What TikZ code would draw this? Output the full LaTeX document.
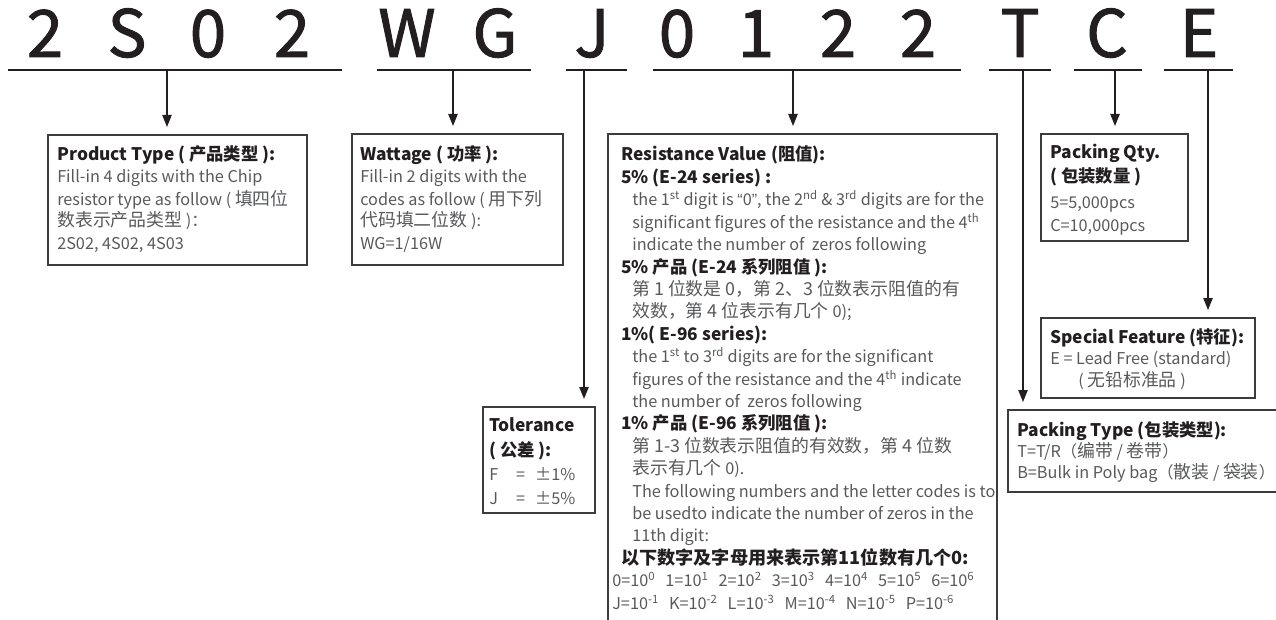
\documentclass[tikz,border=0pt]{standalone}
\usepackage{fontspec}
\setmainfont{Noto Sans CJK SC}
\newfontfamily\hdrfont{Noto Sans CJK SC}[FakeBold=1.4]
\newfontfamily\latq{Liberation Sans}
\usetikzlibrary{arrows.meta,fit}
\definecolor{ink}{HTML}{231F20}
\definecolor{bodytx}{HTML}{58595B}
\definecolor{frame}{HTML}{3C3C3C}
\newcommand\txline[5]{\node[#1,anchor=base west] (#2) at (#3,#4) {#5};}
\newcommand\sps[1]{\textsuperscript{#1}}
\newcommand\zh[1]{{\fontsize{13.4}{13.4}\selectfont #1}}
\newcommand\gap{\hspace{0.62em}}
\begin{document}
\begin{tikzpicture}[x=0.75pt,y=-0.75pt,
  big/.style={font=\hdrfont\fontsize{49}{49}\selectfont, text=ink, anchor=base, inner sep=0, text height=34pt, text depth=0pt},
  uline/.style={draw=ink, line width=0.9pt},
  arr/.style={draw=ink, line width=0.95pt, -{Triangle[length=9pt,width=7pt]}, shorten >=6pt},
  box/.style={draw=frame, line width=0.8pt, inner sep=0, outer sep=0},
  hd/.style={font=\fontsize{13}{13}\bfseries, text=ink, inner sep=0},
  tx/.style={font=\fontsize{12.2}{12.2}\selectfont, text=bodytx, inner sep=0},
  sm/.style={font=\fontsize{12.2}{12.2}\selectfont, text=bodytx, inner sep=0},
]
\useasboundingbox (0,0) rectangle (1276,620);
\clip (0,0) rectangle (1276,620);

% header code letters
\node[big] (c1) at (45,57) {2};
\node[big] (c2) at (127,57) {S};
\node[big] (c3) at (208,57) {0};
\node[big] (c4) at (292,57) {2};
\node[big] (c5) at (407,57) {W};
\node[big] (c6) at (495,57) {G};
\node[big] (c7) at (592,57) {J};
\node[big] (c8) at (677,57) {0};
\node[big] (c9) at (756,57) {1};
\node[big] (c10) at (838,57) {2};
\node[big] (c11) at (918,57) {2};
\node[big] (c12) at (1020,57) {T};
\node[big] (c13) at (1107,57) {C};
\node[big] (c14) at (1199,57) {E};

% underlines
\coordinate (a1) at (8,70);    \coordinate (b1) at (342,70);
\coordinate (a2) at (377,70);  \coordinate (b2) at (531,70);
\coordinate (a3) at (566,70);  \coordinate (b3) at (627,70);
\coordinate (a4) at (653,70);  \coordinate (b4) at (961,70);
\coordinate (a5) at (989,70);  \coordinate (b5) at (1051,70);
\coordinate (a6) at (1074,70); \coordinate (b6) at (1142,70);
\coordinate (a7) at (1164,70); \coordinate (b7) at (1233,70);
\foreach \i in {1,...,7} \draw[uline] (a\i) -- (b\i);

% arrow roots
\coordinate (d1) at (167,70);
\coordinate (d2) at (453,70);
\coordinate (d3) at (584,70);
\coordinate (d4) at (793,70);
\coordinate (d5) at (1023,70);
\coordinate (d6) at (1115,70);
\coordinate (d7) at (1208,70);

% boxes
\node[box, fit={(48,135) (307,265)}] (pt) {};
\node[box, fit={(352,134) (563,265)}] (wt) {};
\node[box, fit={(483,407) (595,513)}] (tol) {};
\node[box, fit={(608,134) (997,660)}] (res) {};
\node[box, fit={(1041,134) (1188,241)}] (pq) {};
\node[box, fit={(1041,318) (1255,398)}] (sf) {};
\node[box, fit={(1008,410) (1300,492)}] (ptype) {};

% connectors
\draw[arr] (d1) -- (d1 |- pt.north);
\draw[arr] (d2) -- (d2 |- wt.north);
\draw[arr] (d3) -- (d3 |- tol.north);
\draw[arr] (d4) -- (d4 |- res.north);
\draw[arr] (d5) -- (d5 |- ptype.north);
\draw[arr] (d6) -- (d6 |- pq.north);
\draw[arr] (d7) -- (d7 |- sf.north);

% Product type
\txline{hd}{p1}{57}{161}{Product Type ( 产品类型 ):}
\txline{tx}{p2}{57}{183}{Fill-in 4 digits with the Chip}
\txline{tx}{p3}{57}{205}{resistor type as follow ( \zh{填四位}}
\txline{tx}{p4}{57}{227}{\zh{数表示产品类型} )：}
\txline{tx}{p5}{57}{249}{2S02, 4S02, 4S03}

% Wattage
\txline{hd}{w1}{360}{161}{Wattage ( 功率 ):}
\txline{tx}{w2}{360}{183}{Fill-in 2 digits with the}
\txline{tx}{w3}{360}{205}{codes as follow ( \zh{用下列}}
\txline{tx}{w4}{360}{227}{\zh{代码填二位数} ):}
\txline{tx}{w5}{360}{249}{WG=1/16W}

% Tolerance
\txline{hd}{t1}{489}{431}{Tolerance}
\txline{hd}{t2}{489}{456}{( 公差 ):}
\txline{tx}{t3}{489}{480}{\makebox[1.65em][l]{F}=\ \ \,±1\%}
\txline{tx}{t4}{489}{504}{\makebox[1.65em][l]{J}=\ \ \,±5\%}

% Resistance value
\txline{hd}{r1}{621}{161}{Resistance Value (阻值):}
\txline{hd}{r2}{621}{183.4}{5\% (E-24 series) :}
\txline{tx}{r3}{632}{205.8}{the 1\sps{st} digit is {\latq “}0{\latq ”}, the 2\sps{nd} \& 3\sps{rd} digits are for the}
\txline{tx}{r4}{632}{228.2}{significant figures of the resistance and the 4\sps{th}}
\txline{tx}{r5}{632}{250.6}{indicate the number of\ \ zeros following}
\txline{hd}{r6}{621}{273}{5\% 产品 (E-24 系列阻值 ):}
\txline{tx}{r7}{632}{295.4}{\zh{第 1 位数是 0，第 2、3 位数表示阻值的有}}
\txline{tx}{r8}{632}{317.8}{\zh{效数，第 4 位表示有几个} 0);}
\txline{hd}{r9}{621}{340.2}{1\%( E-96 series):}
\txline{tx}{r10}{632}{362.6}{the 1\sps{st} to 3\sps{rd} digits are for the significant}
\txline{tx}{r11}{632}{385}{figures of the resistance and the 4\sps{th} indicate}
\txline{tx}{r12}{632}{407.4}{the number of\ \ zeros following}
\txline{hd}{r13}{621}{429.8}{1\% 产品 (E-96 系列阻值 ):}
\txline{tx}{r14}{632}{452.2}{\zh{第 1-3 位数表示阻值的有效数，第 4 位数}}
\txline{tx}{r15}{632}{474.6}{\zh{表示有几个} 0).}
\txline{tx}{r16}{632}{497}{The following numbers and the letter codes is to}
\txline{tx}{r17}{632}{519.4}{be usedto indicate the number of zeros in the}
\txline{tx}{r18}{632}{541.8}{11th digit:}
\txline{hd}{r19}{621}{564.2}{\fontsize{13.6}{13.6}\selectfont 以下数字及字母用来表示第11位数有几个0:}
\txline{sm}{r20}{612}{586.6}{0=10\sps{0}\gap 1=10\sps{1}\gap 2=10\sps{2}\gap 3=10\sps{3}\gap 4=10\sps{4}\gap 5=10\sps{5}\gap 6=10\sps{6}}
\txline{sm}{r21}{612}{609}{J=10\sps{-1}\gap K=10\sps{-2}\gap L=10\sps{-3}\gap M=10\sps{-4}\gap N=10\sps{-5}\gap P=10\sps{-6}}

% Packing qty
\txline{hd}{q1}{1050}{159}{Packing Qty.}
\txline{hd}{q2}{1050}{183}{( 包装数量 )}
\txline{tx}{q3}{1050}{209}{5=5,000pcs}
\txline{tx}{q4}{1050}{231}{C=10,000pcs}

% Special feature
\txline{hd}{s1}{1050}{343}{Special Feature (特征):}
\txline{tx}{s2}{1050}{364}{E = Lead Free (standard)}
\txline{tx}{s3}{1078}{386}{( \zh{无铅标准品} )}

% Packing type
\txline{hd}{k1}{1017}{436}{Packing Type (包装类型):}
\txline{tx}{k2}{1017}{457}{T=T/R（\zh{编带} / \zh{卷带}）}
\txline{tx}{k3}{1017}{478}{B=Bulk in Poly bag（\zh{散装} / \zh{袋装}）}
\end{tikzpicture}
\end{document}
